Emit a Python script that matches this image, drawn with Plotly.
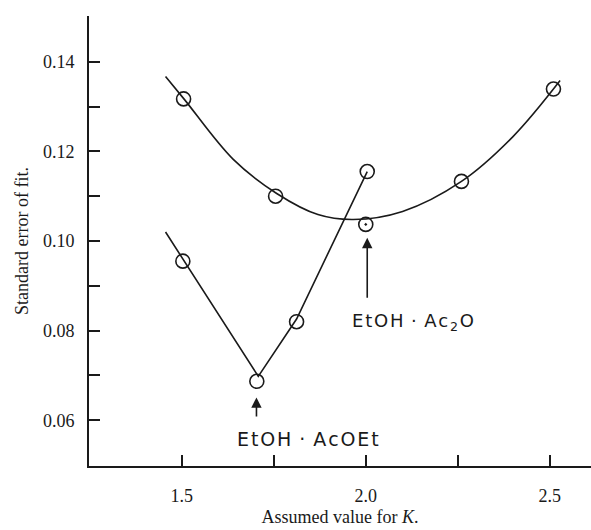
import plotly.graph_objects as go

# Data
upper_k = [1.505, 1.755, 2.0, 2.26, 2.51]
upper_err = [0.1317, 0.1100, 0.1037, 0.1133, 0.1339]
upper_curve_k = [1.456, 1.507, 1.64, 1.758, 1.87, 1.966, 2.10, 2.26, 2.40, 2.528]
upper_curve_err = [0.1367, 0.1316, 0.1182, 0.1106, 0.1059, 0.1048, 0.1066, 0.1133, 0.1233, 0.1358]

lower_k = [1.503, 1.704, 1.812, 2.004]
lower_err = [0.0955, 0.0687, 0.0820, 0.1155]
lower_line_k = [1.456, 1.708, 1.812, 2.004]
lower_line_err = [0.1020, 0.0698, 0.0826, 0.1155]

x_ticks = [1.5, 2.0, 2.5]
x_ticktext = ["1.5", "2.0", "2.5"]
y_ticks = [0.06, 0.08, 0.10, 0.12, 0.14]
y_ticktext = ["0.06", "0.08", "0.10", "0.12", "0.14"]

hs = "\u200a"  # hair space, mimics the wide lettering of the original
label_ac2o = hs.join(["E", "t", "O", "H", " ·", " A", "c", "<sub>2</sub>", "O"])
label_acoet = hs.join(["E", "t", "O", "H", " ·", " A", "c", "O", "E", "t"])

serif = "Liberation Serif, DejaVu Serif, serif"
sans = "DejaVu Sans, sans-serif"
ink = "#1a1a1a"

fig = go.Figure()
fig.add_trace(go.Scatter(x=upper_curve_k, y=upper_curve_err, mode="lines",
                         line=dict(color=ink, width=1.6, shape="spline", smoothing=1.0),
                         hoverinfo="skip", showlegend=False))
fig.add_trace(go.Scatter(x=lower_line_k, y=lower_line_err, mode="lines",
                         line=dict(color=ink, width=1.6), hoverinfo="skip", showlegend=False))
upper_symbols = ["circle-open", "circle-open", "circle-open-dot", "circle-open", "circle-open"]
fig.add_trace(go.Scatter(x=upper_k, y=upper_err, mode="markers",
                         marker=dict(symbol=upper_symbols, size=14, color=ink,
                                     line=dict(color=ink, width=1.6)),
                         showlegend=False))
fig.add_trace(go.Scatter(x=lower_k, y=lower_err, mode="markers",
                         marker=dict(symbol="circle-open", size=14, color=ink,
                                     line=dict(color=ink, width=1.6)),
                         showlegend=False))

# arrows
fig.add_annotation(x=2.004, y=0.1007, ax=2.004, ay=0.0870, xref="x", yref="y",
                   axref="x", ayref="y", text="", showarrow=True, arrowhead=2,
                   arrowsize=1.3, arrowwidth=1.6, arrowcolor=ink)
fig.add_annotation(x=1.703, y=0.0651, ax=1.703, ay=0.0605, xref="x", yref="y",
                   axref="x", ayref="y", text="", showarrow=True, arrowhead=2,
                   arrowsize=1.3, arrowwidth=1.6, arrowcolor=ink)
fig.add_annotation(x=2.129, y=0.0820, text=label_ac2o, showarrow=False,
                   font=dict(family=sans, size=18, color=ink))
fig.add_annotation(x=1.843, y=0.0558, text=label_acoet, showarrow=False,
                   font=dict(family=sans, size=19, color=ink))

fig.update_layout(
    width=591, height=530,
    margin=dict(l=89, r=0, t=16, b=64),
    plot_bgcolor="white", paper_bgcolor="white",
    showlegend=False,
    xaxis=dict(range=[1.248, 2.612], tickvals=x_ticks, ticktext=x_ticktext,
               ticks="inside", ticklen=11, tickwidth=1.5, tickcolor=ink,
               minor=dict(tickvals=[1.75, 2.25], ticks="inside", ticklen=11,
                          tickwidth=1.5, tickcolor=ink),
               showline=True, linewidth=2, linecolor=ink, showgrid=False,
               zeroline=False, ticklabelstandoff=12, automargin=False,
               tickfont=dict(family=serif, size=18, color=ink),
               title=dict(text="Assumed value for <i>K</i>.", standoff=6,
                          font=dict(family=serif, size=18, color=ink))),
    yaxis=dict(range=[0.0498, 0.1502], tickvals=y_ticks, ticktext=y_ticktext,
               ticks="inside", ticklen=11, tickwidth=1.5, tickcolor=ink,
               minor=dict(tickvals=[0.07, 0.09, 0.11, 0.13], ticks="inside", ticklen=11,
                          tickwidth=1.5, tickcolor=ink),
               showline=True, linewidth=2, linecolor=ink, showgrid=False,
               zeroline=False, ticklabelstandoff=9, automargin=False,
               tickfont=dict(family=serif, size=18, color=ink),
               title=dict(text="Standard error of fit.", standoff=10,
                          font=dict(family=serif, size=18, color=ink))),
)

fig.write_html("out.html", config={"displayModeBar": False},
               post_script="document.body.style.margin='0';document.body.style.overflow='hidden';")
